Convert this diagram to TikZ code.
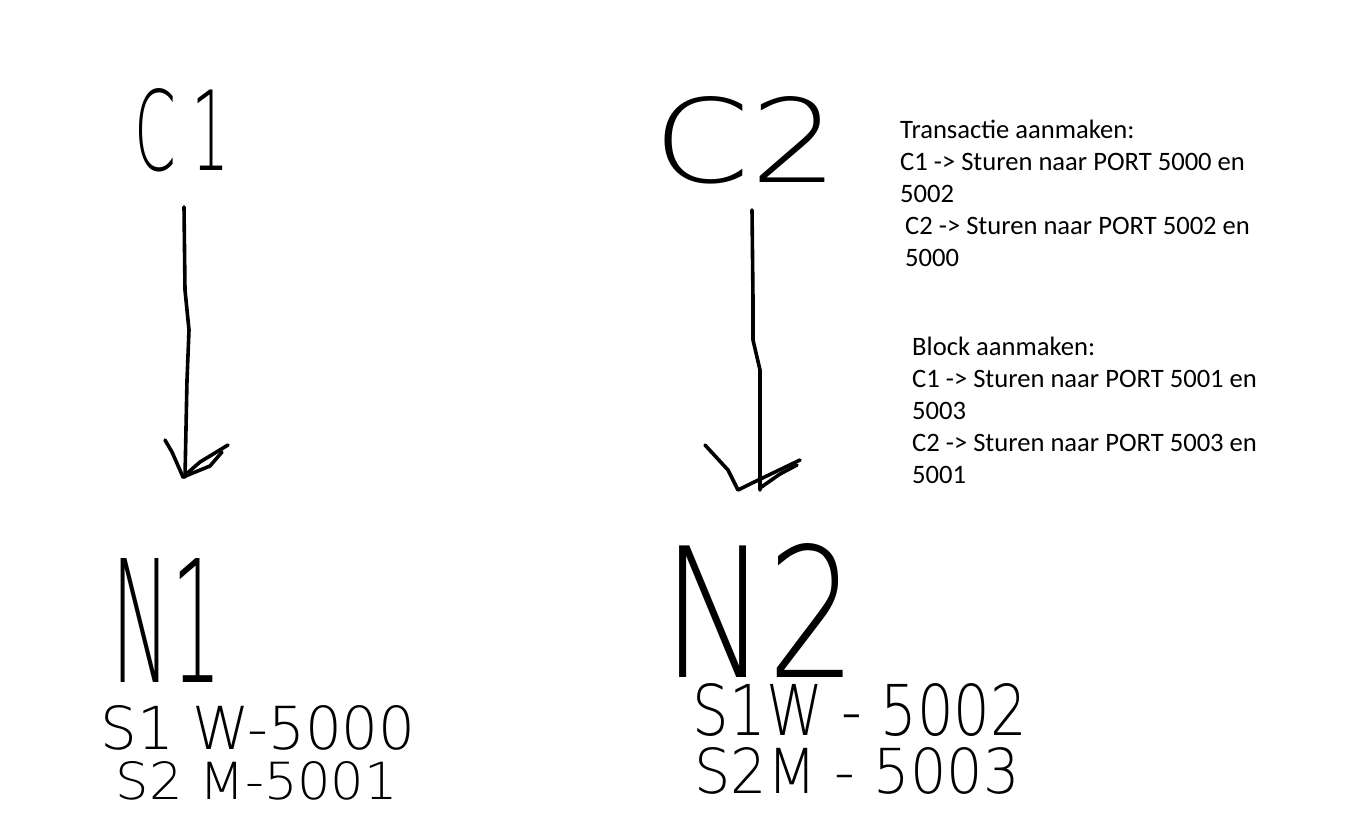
\documentclass[tikz,border=0pt]{standalone}
\usepackage{graphicx}
\usepackage{fontspec}
\setmainfont{Carlito}
\IfFontExistsTF{DejaVu Sans ExtraLight}
  {\newfontfamily\handthin{DejaVu Sans ExtraLight}\newfontfamily\handlight{DejaVu Sans ExtraLight}}
  {\newfontfamily\handthin{Liberation Sans}\newfontfamily\handlight{Liberation Sans}}
\newcommand\hwbox[4]{\resizebox{#1pt}{#2pt}{#3#4}}
\tikzset{
  typed/.style={anchor=base west, inner sep=0pt, font=\fontsize{26.6}{32}\selectfont, text=black},
  hand/.style={inner sep=0pt, text=black},
  stroke/.style={line width=3.6pt, line cap=round, line join=round, black}
}
\begin{document}
\begin{tikzpicture}[x=1pt,y=-1pt]
\path[fill=white, use as bounding box] (0,0) rectangle (1348,823);

% handwritten labels
\node[hand] (c1) at (182,130) {\hwbox{95}{82}{\handthin}{C\hspace{0.25em}1}};
\node[hand] (c2) at (746,140) {\hwbox{185}{86}{\handthin}{C2}};
\node[hand] (n1) at (167,620) {\hwbox{110}{124}{\handthin}{N1}};
\node[hand] (n2) at (760,610) {\hwbox{195}{134}{\handthin}{N2}};
\node[hand] (s1a) at (258,728) {\hwbox{315}{44}{\handlight}{S1 W-5000}};
\node[hand] (s1b) at (257,781) {\hwbox{282}{38}{\handlight}{S2 M-5001}};
\node[hand] (s2a) at (860,710) {\hwbox{334}{52}{\handlight}{S1W - 5002}};
\node[hand] (s2b) at (857,771) {\hwbox{325}{46}{\handlight}{S2M - 5003}};

% arrow C1 -> N1
\coordinate (a1s) at (184,207);
\coordinate (a1e) at (185,477);
\draw[stroke] (a1s) -- (185,290) -- (189,330) -- (187,380) -- (a1e);
\draw[stroke] (165,440) -- (172,452) -- (183,477) -- (200,462) -- (228,445);
\draw[stroke] (183,477) -- (210,466) -- (222,452);

% arrow C2 -> N2
\coordinate (a2s) at (752,210);
\coordinate (a2e) at (760,490);
\draw[stroke] (a2s) -- (753,300) -- (753,340) -- (760,370) -- (a2e);
\draw[stroke] (705,445) -- (728,470) -- (738,490) -- (748,485) -- (775,472) -- (800,460);
\draw[stroke] (760,488) -- (780,474) -- (797,465);

% typed text
\node[typed] (t1a) at (900,138) {Transactie aanmaken:};
\node[typed] (t1b) at (900,170) {C1 -> Sturen naar PORT 5000 en};
\node[typed] (t1c) at (900,202) {5002};
\node[typed] (t1d) at (905,234) {C2 -> Sturen naar PORT 5002 en};
\node[typed] (t1e) at (905,266) {5000};

\node[typed] (t2a) at (912,355) {Block aanmaken:};
\node[typed] (t2b) at (912,387) {C1 -> Sturen naar PORT 5001 en};
\node[typed] (t2c) at (912,419) {5003};
\node[typed] (t2d) at (912,451) {C2 -> Sturen naar PORT 5003 en};
\node[typed] (t2e) at (912,483) {5001};
\end{tikzpicture}
\end{document}
